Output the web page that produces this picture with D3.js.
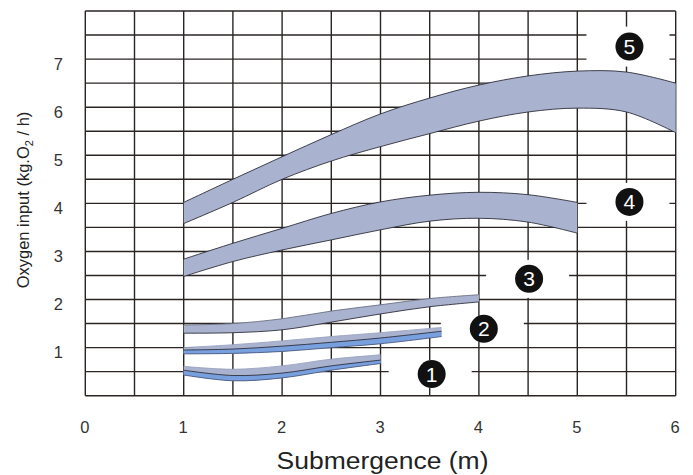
<!DOCTYPE html>
<html>
<head>
<meta charset="utf-8">
<script src="https://cdn.jsdelivr.net/npm/d3@7"></script>
<style>
  html, body { margin: 0; padding: 0; background: #fff; }
  svg { display: block; font-family: "Liberation Sans", Arial, Helvetica, sans-serif; }
</style>
</head>
<body>
<svg id="chart" width="693" height="475"></svg>
<script>
// ---------- DATA ----------
const xTickLabels = [0, 1, 2, 3, 4, 5, 6];
const yTickLabels = [1, 2, 3, 4, 5, 6, 7];
const xTitle = "Submergence (m)";

// Band 1
const band1X     = [1, 1.5, 2, 2.5, 3];
const band1Upper = [0.61, 0.55, 0.62, 0.76, 0.85];
const band1Mid   = [0.53, 0.42, 0.47, 0.62, 0.74];
const band1Lower = [0.43, 0.31, 0.37, 0.53, 0.67];
// Band 2
const band2X     = [1, 1.5, 2, 2.5, 3, 3.62];
const band2Upper = [1.00, 1.06, 1.14, 1.23, 1.31, 1.42];
const band2Mid   = [0.95, 0.97, 1.03, 1.11, 1.20, 1.34];
const band2Lower = [0.87, 0.88, 0.92, 1.00, 1.08, 1.23];
// Band 3
const band3X     = [1, 1.5, 2, 2.5, 3, 3.5, 4];
const band3Upper = [1.47, 1.50, 1.60, 1.76, 1.89, 2.02, 2.10];
const band3Lower = [1.30, 1.31, 1.37, 1.53, 1.70, 1.85, 1.95];
// Band 4
const band4X     = [1, 1.5, 2, 2.5, 3, 3.5, 4, 4.5, 5];
const band4Upper = [2.84, 3.17, 3.48, 3.79, 4.03, 4.17, 4.23, 4.18, 4.02];
const band4Lower = [2.48, 2.79, 3.03, 3.24, 3.45, 3.63, 3.69, 3.61, 3.38];
// Band 5
const band5X     = [1, 1.5, 2, 2.5, 3, 3.5, 4, 4.5, 5, 5.5, 6];
const band5Upper = [4.02, 4.50, 4.97, 5.43, 5.86, 6.19, 6.46, 6.65, 6.75, 6.73, 6.50];
const band5Lower = [3.58, 4.02, 4.50, 4.88, 5.18, 5.45, 5.71, 5.90, 5.98, 5.90, 5.47];

// Curve labels (numbers in black discs)
const labelNames = ["1", "2", "3", "4", "5"];
const labelX     = [3.52, 4.05, 4.51, 5.53, 5.53];
const labelY     = [0.45, 1.39, 2.43, 4.03, 7.26];

// ---------- LAYOUT ----------
const W = 693, H = 475;
const plot = { left: 85.3, right: 675.7, top: 11, bottom: 395.7 };
const boxHalfH = [14, 13, 19, 19, 20];   // white knock-out box heights (px)
const boxLeftPad = 43, boxRightPad = 40;

const svg = d3.select("#chart");
svg.append("rect").attr("width", W).attr("height", H).attr("fill", "#fff");

const x = d3.scaleLinear().domain([0, 6]).range([plot.left, plot.right]);
const y = d3.scaleLinear().domain([0, 8]).range([plot.bottom, plot.top]);

const gridColor = "#2a2523";
const gridW = 1.4;

// grid
const g = svg.append("g");
const vLines = d3.range(0, 6.001, 0.5);
const hLines = d3.range(0, 8.001, 0.5);
g.selectAll("line.v").data(vLines).join("line")
  .attr("x1", d => x(d)).attr("x2", d => x(d))
  .attr("y1", y(0)).attr("y2", y(8))
  .attr("stroke", gridColor).attr("stroke-width", gridW);
g.selectAll("line.h").data(hLines).join("line")
  .attr("x1", x(0)).attr("x2", x(6))
  .attr("y1", d => y(d)).attr("y2", d => y(d))
  .attr("stroke", gridColor).attr("stroke-width", gridW);

// white knock-out boxes behind labels
const labels = labelNames.map((n, i) => ({ n, x: labelX[i], y: labelY[i], hh: boxHalfH[i] }));
svg.append("g").selectAll("rect").data(labels).join("rect")
  .attr("x", d => x(d.x) - boxLeftPad)
  .attr("width", boxLeftPad + boxRightPad)
  .attr("y", d => y(d.y) - d.hh)
  .attr("height", d => 2 * d.hh)
  .attr("fill", "#fff");

// bands
const lightFill = "#a9b3cf";
const blueFill = "#79a0de";
const edge = "#2f2f3a";
const curve = d3.curveCatmullRom.alpha(0.5);

function zip(xs, a, b) { return xs.map((v, i) => ({ x: v, a: a[i], b: b[i] })); }
const areaGen = d3.area().curve(curve).x(d => x(d.x)).y0(d => y(d.b)).y1(d => y(d.a));
const lineGen = d3.line().curve(curve).x(d => x(d[0])).y(d => y(d[1]));

function drawBand(xs, up, lo, opts) {
  const bg = svg.append("g");
  bg.append("path").attr("d", areaGen(zip(xs, up, lo))).attr("fill", lightFill);
  if (opts.mid) {
    bg.append("path").attr("d", areaGen(zip(xs, opts.mid, lo))).attr("fill", blueFill);
  }
  bg.append("path").attr("d", lineGen(xs.map((v, i) => [v, up[i]])))
    .attr("fill", "none").attr("stroke", opts.topColor || edge).attr("stroke-width", 0.9);
  if (opts.mid) {
    bg.append("path").attr("d", lineGen(xs.map((v, i) => [v, opts.mid[i]])))
      .attr("fill", "none").attr("stroke", edge).attr("stroke-width", 0.9);
  }
  bg.append("path").attr("d", lineGen(xs.map((v, i) => [v, lo[i]])))
    .attr("fill", "none").attr("stroke", opts.botColor || edge).attr("stroke-width", 0.9);
}

drawBand(band5X, band5Upper, band5Lower, {});
drawBand(band4X, band4Upper, band4Lower, {});
drawBand(band3X, band3Upper, band3Lower, { topColor: "#6b7080" });
drawBand(band2X, band2Upper, band2Lower, { mid: band2Mid, topColor: "#9aa3c0", botColor: "#4a5a80" });
drawBand(band1X, band1Upper, band1Lower, { mid: band1Mid, topColor: "#9aa3c0", botColor: "#4a5a80" });

// label discs
const lg = svg.append("g").selectAll("g").data(labels).join("g")
  .attr("transform", d => `translate(${x(d.x)},${y(d.y)})`);
lg.append("circle").attr("r", 14).attr("fill", "#111");
lg.append("text").text(d => d.n)
  .attr("text-anchor", "middle").attr("dy", "0.36em")
  .attr("fill", "#fff").attr("font-size", 21);

// axes (labels only)
const xAxis = d3.axisBottom(x).tickValues(xTickLabels).tickSize(0).tickPadding(0).tickFormat(d3.format("d"));
const xa = svg.append("g").attr("transform", `translate(-1,${plot.bottom + 26})`).call(xAxis);
xa.select(".domain").remove();
xa.selectAll("text").attr("font-size", 16.5).attr("fill", "#333")
  .attr("font-family", "Liberation Sans, Arial, sans-serif");

const yAxis = d3.axisLeft(y).tickValues(yTickLabels).tickSize(0).tickPadding(0).tickFormat(d3.format("d"));
const ya = svg.append("g").attr("transform", `translate(63,5)`).call(yAxis);
ya.select(".domain").remove();
ya.selectAll("text").attr("font-size", 16.5).attr("fill", "#333")
  .attr("font-family", "Liberation Sans, Arial, sans-serif");

// axis titles
svg.append("text").attr("x", 382.5).attr("y", 468.5)
  .attr("text-anchor", "middle").attr("font-size", 23).attr("fill", "#222")
  .attr("textLength", 212).attr("lengthAdjust", "spacingAndGlyphs")
  .text(xTitle);

const yt = svg.append("text")
  .attr("transform", "translate(29,200) rotate(-90)")
  .attr("text-anchor", "middle").attr("font-size", 16.5).attr("fill", "#222");
yt.append("tspan").text("Oxygen input (kg.O");
yt.append("tspan").text("2").attr("font-size", 11).attr("dy", 4);
yt.append("tspan").text(" / h)").attr("dy", -4);
</script>
</body>
</html>
